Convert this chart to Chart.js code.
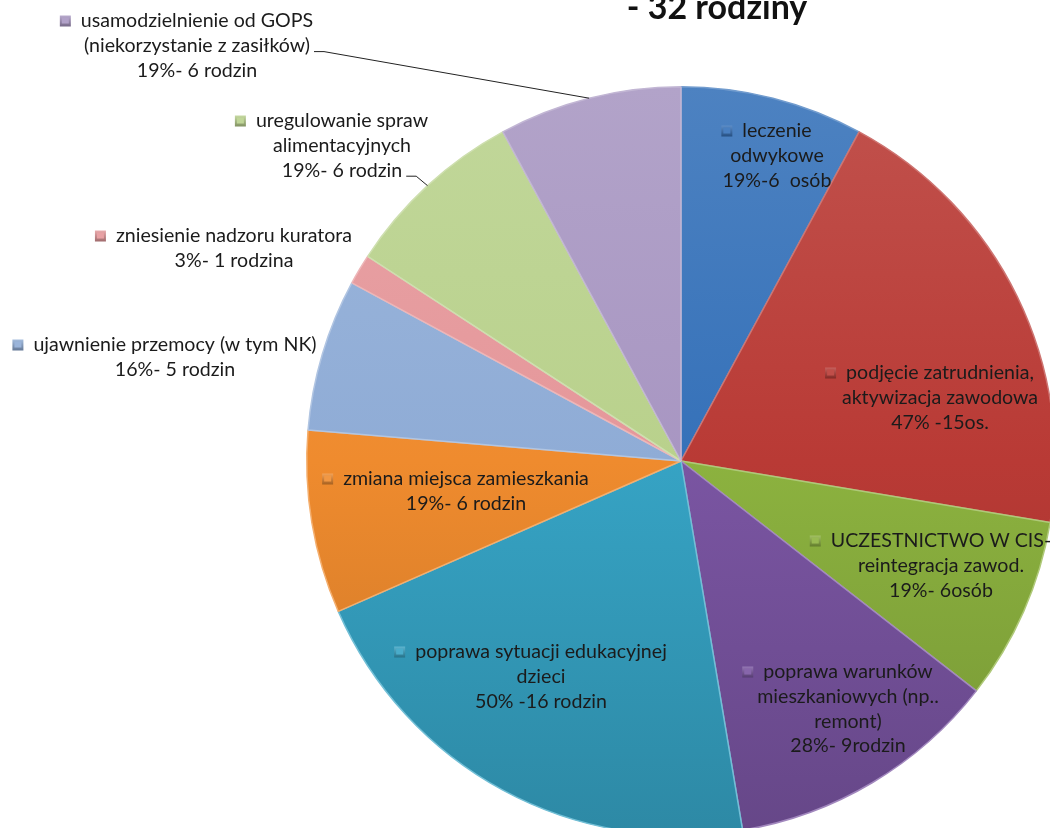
<!DOCTYPE html>
<html lang="pl">
<head>
<meta charset="utf-8">
<title>Efekty pracy z rodzinami - 32 rodziny</title>
<script src="https://cdn.jsdelivr.net/npm/chart.js@4.4.1/dist/chart.umd.min.js"></script>
<style>
  html, body { margin: 0; padding: 0; background: #fff; overflow: hidden; }
  #wrap { position: absolute; left: 0; top: 0; width: 1060px; height: 900px; }
</style>
</head>
<body>
<div id="wrap"><canvas id="pie"></canvas></div>
<script>
// ==========================================
// DANE
// ==========================================

const kategorie = [
    'leczenie odwykowe',
    'podjęcie zatrudnienia, aktywizacja zawodowa',
    'UCZESTNICTWO W CIS- reintegracja zawod.',
    'poprawa warunków mieszkaniowych (np.. remont)',
    'poprawa sytuacji edukacyjnej dzieci',
    'zmiana miejsca zamieszkania',
    'ujawnienie przemocy (w tym NK)',
    'zniesienie nadzoru kuratora',
    'uregulowanie spraw alimentacyjnych',
    'usamodzielnienie od GOPS (niekorzystanie z zasiłków)'
];

const liczby = [6, 15, 6, 9, 16, 6, 5, 1, 6, 6];

const etykiety = [
    ['leczenie', 'odwykowe', '19%-6  osób'],
    ['podjęcie zatrudnienia,', 'aktywizacja zawodowa', '47% -15os.'],
    ['UCZESTNICTWO W CIS-', 'reintegracja zawod.', '19%- 6osób'],
    ['poprawa warunków', 'mieszkaniowych (np..', 'remont)', '28%- 9rodzin'],
    ['poprawa sytuacji edukacyjnej', 'dzieci', '50% -16 rodzin'],
    ['zmiana miejsca zamieszkania', '19%- 6 rodzin'],
    ['ujawnienie przemocy (w tym NK)', '16%- 5 rodzin'],
    ['zniesienie nadzoru kuratora', '3%- 1 rodzina'],
    ['uregulowanie spraw', 'alimentacyjnych', '19%- 6 rodzin'],
    ['usamodzielnienie od GOPS', '(niekorzystanie z zasiłków)', '19%- 6 rodzin']
];

const tytul = '- 32 rodziny';

// ==========================================
// WYGLĄD
// ==========================================

const kolory = [
    '#3571b9', '#b93a35', '#8cb23f', '#7a55a2', '#36a3c4',
    '#ef8b2e', '#8facd6', '#e5979a', '#b9d18c', '#a896c2'
];

// polozenie etykiet wzgledem srodka kola (srodek tekstu, pierwsza linia)
const polozenie = [
    [96, -330], [259, -88], [260, 80], [167, 211], [-140, 191],
    [-215, 18], [-506, -116], [-447, -225], [-339, -340], [-484, -440]
];

// ktore etykiety maja linie odniesienia
const zLinia = [false, false, false, false, false, false, false, false, true, true];

const CZCIONKA = '19.6px Lato';
const LINIA = 24.6;

function cieniuj(hex, t) {
    const n = parseInt(hex.slice(1), 16);
    let r = (n >> 16) & 255, g = (n >> 8) & 255, b = n & 255;
    const cel = t > 0 ? 255 : 0;
    const k = Math.abs(t);
    r = Math.round(r + (cel - r) * k);
    g = Math.round(g + (cel - g) * k);
    b = Math.round(b + (cel - b) * k);
    return `rgb(${r},${g},${b})`;
}

function wypelnienie(ctx) {
    const c = kolory[ctx.dataIndex];
    const area = ctx.chart.chartArea;
    if (!area) return c;
    const g = ctx.chart.ctx.createLinearGradient(0, area.top, 0, area.bottom);
    g.addColorStop(0, cieniuj(c, 0.12));
    g.addColorStop(0.5, c);
    g.addColorStop(1, cieniuj(c, -0.16));
    return g;
}

// ==========================================
// ETYKIETY, ZNACZNIKI I TYTUL
// ==========================================

const etykietyPlugin = {
    id: 'etykietyPlugin',
    afterDatasetsDraw(chart) {
        const ctx = chart.ctx;
        const meta = chart.getDatasetMeta(0);
        const srodek = meta.data[0];
        const cx = srodek.x, cy = srodek.y;

        ctx.save();
        ctx.font = CZCIONKA;
        ctx.textAlign = 'center';
        ctx.textBaseline = 'middle';

        etykiety.forEach((linie, i) => {
            const x = cx + polozenie[i][0];
            const y0 = cy + polozenie[i][1];

            ctx.fillStyle = '#1b1b1b';
            linie.forEach((t, j) => ctx.fillText(t, x, y0 + j * LINIA));

            // znacznik legendy przed pierwsza linia
            const w = ctx.measureText(linie[0]).width;
            const mx = x - w / 2 - 10 - 11;
            const my = y0 - 5.5;
            const g = ctx.createLinearGradient(0, my, 0, my + 11);
            g.addColorStop(0, cieniuj(kolory[i], 0.2));
            g.addColorStop(1, cieniuj(kolory[i], -0.3));
            ctx.fillStyle = g;
            ctx.fillRect(mx, my, 11, 11);
            ctx.fillStyle = cieniuj(kolory[i], 0.1);
            ctx.fillRect(mx + 2, my + 2, 7, 6);

            if (zLinia[i]) {
                const arc = meta.data[i];
                const kat = (arc.startAngle + arc.endAngle) / 2;
                const ex = arc.x + Math.cos(kat) * arc.outerRadius;
                const ey = arc.y + Math.sin(kat) * arc.outerRadius;
                const ost = i === 9 ? 1 : linie.length - 1;
                const wl = ctx.measureText(linie[ost]).width;
                const sx = x + wl / 2 + 4;
                const sy = y0 + ost * LINIA + 6;
                ctx.beginPath();
                ctx.moveTo(sx, sy);
                ctx.lineTo(sx + 10, sy);
                ctx.lineTo(ex, ey);
                ctx.strokeStyle = '#222';
                ctx.lineWidth = 1;
                ctx.stroke();
            }
        });

        // tytul (uciety u gory)
        ctx.font = 'bold 34px Lato';
        ctx.fillStyle = '#111';
        ctx.textBaseline = 'alphabetic';
        ctx.fillText(tytul, 717, 19);
        ctx.restore();
    }
};

// ==========================================
// WYKRES
// ==========================================

new Chart(document.getElementById('pie'), {
    type: 'pie',
    data: {
        labels: kategorie,
        datasets: [{
            data: liczby,
            backgroundColor: wypelnienie,
            borderColor: kolory.map(c => cieniuj(c, 0.3)),
            borderWidth: 1.5
        }]
    },
    options: {
        responsive: true,
        maintainAspectRatio: false,
        animation: false,
        layout: { padding: { left: 306, top: 86, right: 4, bottom: 64 } },
        plugins: {
            legend: { display: false },
            tooltip: { enabled: false },
            title: { display: false }
        }
    },
    plugins: [etykietyPlugin]
});
</script>
</body>
</html>
